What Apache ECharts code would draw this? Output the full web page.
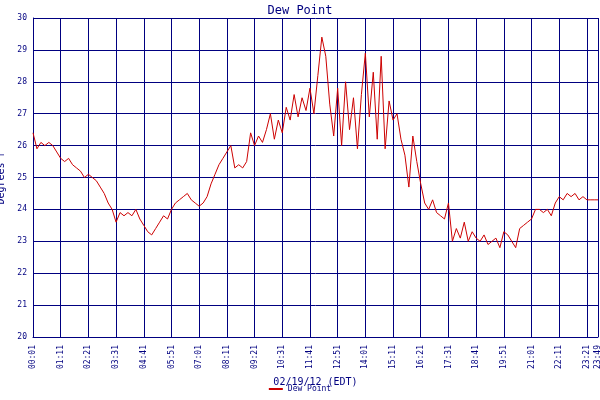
<!DOCTYPE html>
<html><head><meta charset="utf-8">
<script src="https://cdn.jsdelivr.net/npm/echarts@6/dist/echarts.min.js"></script>
<style>html,body{margin:0;padding:0;background:#fff}#c{width:600px;height:400px}</style>
</head><body><div id="c"></div>
<script>
const stepMinutes = 10;
const dewPoint = [
26.4,25.9,26.1,26.0,26.1,26.0,25.8,
25.6,25.5,25.6,25.4,25.3,25.2,25.0,
25.1,25.0,24.9,24.7,24.5,24.2,24.0,
23.6,23.9,23.8,23.9,23.8,24.0,23.7,
23.5,23.3,23.2,23.4,23.6,23.8,23.7,
24.0,24.2,24.3,24.4,24.5,24.3,24.2,
24.1,24.2,24.4,24.8,25.1,25.4,25.6,
25.8,26.0,25.3,25.4,25.3,25.5,26.4,
26.0,26.3,26.1,26.5,27.0,26.2,26.8,
26.4,27.2,26.8,27.6,26.9,27.5,27.1,
27.8,27.0,28.2,29.4,28.8,27.3,26.3,
27.8,26.0,28.0,26.5,27.5,25.9,27.6,
28.9,26.9,28.3,26.2,28.8,25.9,27.4,
26.8,27.0,26.2,25.7,24.7,26.3,25.5,
24.8,24.2,24.0,24.3,23.9,23.8,23.7,
24.2,23.0,23.4,23.1,23.6,23.0,23.3,
23.1,23.0,23.2,22.9,23.0,23.1,22.8,
23.3,23.2,23.0,22.8,23.4,23.5,23.6,
23.7,24.0,24.0,23.9,24.0,23.8,24.2,
24.4,24.3,24.5,24.4,24.5,24.3,24.4,24.3,24.3,24.3
];
const endMinute = 1428;
const startMinuteOfDay = 1;
const seriesData = dewPoint.map((v,i)=>[i*stepMinutes, v]);
seriesData.push([endMinute, 24.3]);
function fmt(m){const t=m+startMinuteOfDay;const h=Math.floor(t/60),mm=t%60;return String(h).padStart(2,'0')+':'+String(mm).padStart(2,'0');}
const F='DejaVu Sans Mono', B='#000080';
const chart=echarts.init(document.getElementById('c'));
chart.setOption({
 animation:false,
 title:{text:'Dew Point',left:'center',top:0,textStyle:{fontFamily:F,fontSize:12,fontWeight:'normal',color:B}},
 legend:{bottom:2,left:'center',itemWidth:14,itemHeight:2,itemGap:4,textStyle:{fontFamily:F,fontSize:8,color:B},data:[{name:'Dew Point',icon:'rect'}]},
 grid:{left:33,right:2,top:18,bottom:63,containLabel:false,outerBoundsMode:'none'},
 xAxis:{type:'value',min:0,max:endMinute,interval:70,
  name:'02/19/12 (EDT)',nameLocation:'middle',nameGap:40,nameTextStyle:{fontFamily:F,fontSize:10,color:B},
  axisLine:{lineStyle:{color:B}},axisTick:{show:false},
  axisLabel:{rotate:90,fontFamily:F,fontSize:8,color:B,showMaxLabel:true,hideOverlap:false,formatter:v=>fmt(v)},
  splitLine:{show:true,lineStyle:{color:B,width:1}}},
 yAxis:{type:'value',min:20,max:30,interval:1,
  name:'Degrees F',nameLocation:'middle',nameGap:22,nameTextStyle:{fontFamily:F,fontSize:10,color:B},
  axisLine:{show:true,lineStyle:{color:B}},axisTick:{show:false},
  axisLabel:{fontFamily:F,fontSize:8,color:B,margin:6},
  splitLine:{show:true,lineStyle:{color:B,width:1}}},
 series:[{name:'Dew Point',type:'line',data:seriesData,showSymbol:false,lineStyle:{color:'#cc0000',width:1},itemStyle:{color:'#cc0000'}}]
});
</script></body></html>
